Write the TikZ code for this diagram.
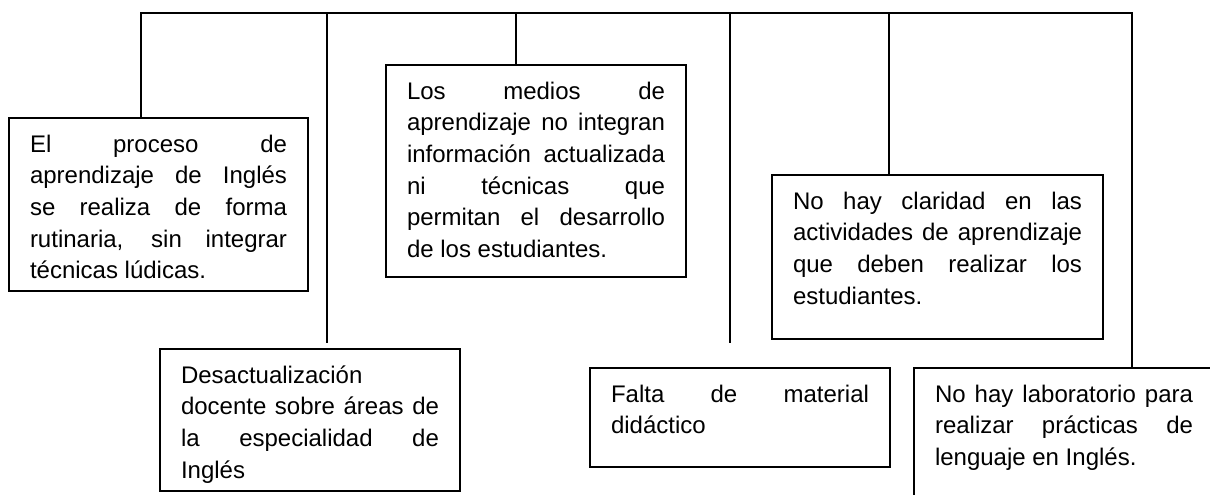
\documentclass[tikz,border=0pt]{standalone}
\usepackage{fontspec}
\setmainfont{Liberation Sans}
\usepackage{tikz}

\newcommand{\cajatexto}[3]{\parbox[c][#2pt][t]{#1pt}{\fontsize{24pt}{31.7pt}\selectfont\tolerance=10000\hbadness=10000\rule{0pt}{22pt}#3}}

\begin{document}
\begin{tikzpicture}[x=1pt,y=-1pt]
						\tikzstyle{caja}=[draw=black, line width=2pt, anchor=north west, inner xsep=21pt, inner ysep=12pt]
						\useasboundingbox (0,0) rectangle (1210,495);
						\clip (0,0) rectangle (1210,495);
						\node [caja] (c1) at (8,117) {\cajatexto{257}{149}{El proceso de\linebreak aprendizaje de Inglés\linebreak se realiza de forma\linebreak rutinaria, sin integrar\linebreak técnicas lúdicas.}};
						\node [caja] (c2) at (159,348) {\cajatexto{258}{118}{Desactualización\linebreak docente sobre áreas de\linebreak la especialidad de\linebreak Inglés}};
						\node [caja] (c3) at (385,64) {\cajatexto{258}{188}{Los medios de\linebreak aprendizaje no integran\linebreak información actualizada\linebreak ni técnicas que\linebreak permitan el desarrollo\linebreak de los estudiantes.}};
						\node [caja] (c4) at (589,367) {\cajatexto{258}{75}{Falta de material\linebreak didáctico}};
						\node [caja] (c5) at (771,174) {\cajatexto{289}{140}{No hay claridad en las\linebreak actividades de aprendizaje\linebreak que deben realizar los\linebreak estudiantes.}};
						\node [caja] (c6) at (913,367) {\cajatexto{258}{126}{No hay laboratorio para\linebreak realizar prácticas de\linebreak lenguaje en Inglés.}};
						\coordinate (t1) at (141,13);
						\coordinate (t2) at (327,13);
						\coordinate (t3) at (516,13);
						\coordinate (t4) at (730,13);
						\coordinate (t5) at (889,13);
						\coordinate (t6) at (1132,13);
						\coordinate (e2) at (327,343);
						\coordinate (e4) at (730,343);
						\draw [black, line width=2pt] (t1 |- c1.north) -- (t1) -- (t6) -- (t6 |- c6.north);
						\draw [black, line width=2pt] (t2) -- (e2);
						\draw [black, line width=2pt] (t3) -- (t3 |- c3.north);
						\draw [black, line width=2pt] (t4) -- (e4);
						\draw [black, line width=2pt] (t5) -- (t5 |- c5.north);
\end{tikzpicture}
\end{document}
